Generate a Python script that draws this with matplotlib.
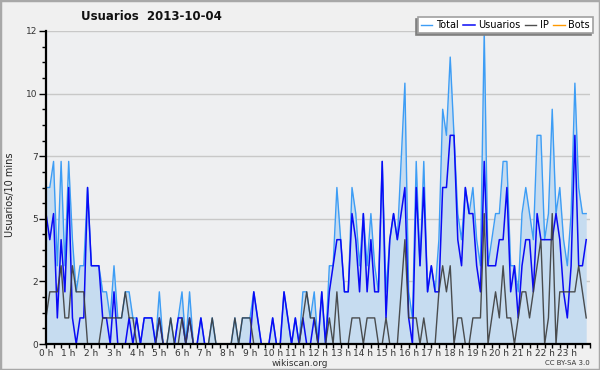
import numpy as np
import matplotlib
matplotlib.use("Agg")
import matplotlib.pyplot as plt
from matplotlib.ticker import FixedLocator, MultipleLocator, FuncFormatter
from matplotlib.patches import Rectangle

# Usuarios por intervalo de 10 minutos (144 intervalos)
usuarios = [5, 4, 5, 1, 4, 2, 6, 1, 0, 1,
            1, 6, 3, 3, 3, 1, 1, 0, 2, 0,
            0, 0, 1, 0, 1, 0, 1, 1, 1, 0,
            1, 0, 0, 0, 0, 1, 1, 0, 1, 0,
            0, 1, 0, 0, 0, 0, 0, 0, 0, 0,
            0, 0, 0, 0, 0, 2, 1, 0, 0, 0,
            1, 0, 0, 2, 1, 0, 1, 0, 1, 0,
            0, 1, 0, 2, 0, 2, 3, 4, 4, 2,
            2, 5, 4, 2, 5, 2, 4, 2, 2, 7,
            1, 4, 5, 4, 5, 6, 1, 0, 6, 3,
            6, 2, 3, 2, 2, 6, 6, 8, 8, 4,
            3, 6, 5, 5, 3, 2, 7, 3, 3, 3,
            4, 4, 6, 2, 3, 1, 3, 4, 4, 2,
            5, 4, 4, 4, 4, 5, 4, 2, 1, 3,
            8, 3, 3, 4]

ip = [1, 2, 2, 2, 3, 1, 1, 3, 2, 2,
      2, 0, 0, 0, 0, 1, 1, 1, 1, 1,
      1, 2, 1, 1, 0, 0, 0, 0, 0, 0,
      1, 0, 0, 1, 0, 0, 1, 0, 1, 0,
      0, 0, 0, 0, 1, 0, 0, 0, 0, 0,
      1, 0, 1, 1, 1, 0, 0, 0, 0, 0,
      0, 0, 0, 0, 0, 0, 0, 0, 1, 2,
      1, 1, 0, 0, 0, 1, 0, 2, 0, 0,
      0, 1, 1, 1, 0, 1, 1, 1, 0, 0,
      1, 0, 0, 0, 2, 4, 1, 1, 1, 0,
      1, 0, 0, 0, 2, 3, 2, 3, 0, 1,
      1, 0, 0, 1, 1, 1, 5, 0, 1, 2,
      1, 3, 1, 1, 0, 1, 2, 2, 1, 2,
      3, 4, 0, 1, 5, 0, 2, 2, 2, 2,
      2, 3, 2, 1]

total = [6, 6, 7, 3, 7, 3, 7, 4, 2, 3,
         3, 6, 3, 3, 3, 2, 2, 1, 3, 1,
         1, 2, 2, 1, 1, 0, 1, 1, 1, 0,
         2, 0, 0, 1, 0, 1, 2, 0, 2, 0,
         0, 1, 0, 0, 1, 0, 0, 0, 0, 0,
         1, 0, 1, 1, 1, 2, 1, 0, 0, 0,
         1, 0, 0, 2, 1, 0, 1, 0, 2, 2,
         1, 2, 0, 2, 0, 3, 3, 6, 4, 2,
         2, 6, 5, 3, 5, 3, 5, 3, 2, 7,
         2, 4, 5, 4, 7, 10, 2, 1, 7, 3,
         7, 2, 3, 2, 4, 9, 8, 11, 8, 5,
         4, 6, 5, 6, 4, 3, 12, 3, 4, 5,
         5, 7, 7, 3, 3, 2, 5, 6, 5, 4,
         8, 8, 4, 5, 9, 5, 6, 4, 3, 5,
         10, 6, 5, 5]

bots = [0] * 144

horas = np.arange(len(total)) / 6
y_ticks = [0, 2.4, 4.8, 7.2, 9.6, 12]
x_ticks = list(range(24))

W, H = 600, 370
fig = plt.figure(figsize=(6, 3.7), dpi=100, facecolor='#f0f0f0')
ax = fig.add_axes([46 / W, 1 - 344 / H, 544 / W, 313 / H])
ax.set_facecolor('#eeeff1')

ax.fill_between(horas, total, color='#c6dcf0', lw=0, zorder=1)
l_bots, = ax.plot(horas, bots, color='#ff9900', lw=1, zorder=1.5)
l_total, = ax.plot(horas, total, color='#3d9df5', lw=1, zorder=3)
l_usr, = ax.plot(horas, usuarios, color='#0a0af5', lw=1.1, zorder=4)
l_ip, = ax.plot(horas, ip, color='#3c3c3c', lw=1, alpha=0.9, zorder=5)

ax.set_xlim(0, 24)
ax.set_ylim(0, 12)

ax.yaxis.set_major_locator(FixedLocator(y_ticks))
ax.yaxis.set_minor_locator(MultipleLocator(0.6))
ax.yaxis.set_major_formatter(FuncFormatter(lambda v, p: f"{v:.0f}"))
ax.xaxis.set_major_locator(FixedLocator(x_ticks))
ax.xaxis.set_minor_locator(MultipleLocator(1 / 3))
ax.xaxis.set_major_formatter(FuncFormatter(lambda v, p: f"{int(v)} h"))

ax.tick_params(axis='both', which='major', direction='out', length=5,
               width=1, colors='black', labelsize=6.5, labelcolor='#333333', pad=1)
ax.tick_params(axis='both', which='minor', direction='out', length=3, width=1)
ax.tick_params(axis='x', which='major', length=3, pad=0.5)
ax.tick_params(axis='x', which='minor', length=3)

ax.grid(axis='y', which='major', color='#c8c8c8', lw=1)
ax.set_axisbelow(True)
for s in ['top', 'right']:
    ax.spines[s].set_visible(False)
for s in ['left', 'bottom']:
    ax.spines[s].set_linewidth(1.6)
    ax.spines[s].set_zorder(6)

leg = ax.legend([l_total, l_usr, l_ip, l_bots], ['Total', 'Usuarios', 'IP', 'Bots'],
                ncol=4, loc='upper right', bbox_to_anchor=(593 / W, 1 - 17 / H),
                bbox_transform=fig.transFigure, borderaxespad=0, fontsize=7,
                handlelength=1.2, handletextpad=0.4, columnspacing=0.4,
                borderpad=0.3, fancybox=False, framealpha=1,
                shadow={'ox': -1.5, 'oy': -1.5, 'color': '#808080', 'alpha': 1})
leg.get_frame().set_edgecolor('#a0a0a0')
leg.get_frame().set_linewidth(1.2)
leg.set_zorder(10)

fig.text(151 / W, 1 - 17 / H, 'Usuarios  2013-10-04', ha='center', va='center',
         fontsize=8.5, fontweight='bold', color='#111111')
fig.text(10 / W, 1 - 195 / H, 'Usuarios/10 mins', rotation=90, ha='center',
         va='center', fontsize=7, color='#222222')
fig.text(300 / W, 1 - 363 / H, 'wikiscan.org', ha='center', va='center',
         fontsize=6.5, color='#333333')
fig.text(590 / W, 1 - 363 / H, 'CC BY-SA 3.0', ha='right', va='center',
         fontsize=5, color='#333333')

fig.patches.append(Rectangle((0, 0), 1, 1, transform=fig.transFigure, fill=False,
                             edgecolor='#a8a8a8', lw=2.5))

fig.savefig('out.png', dpi=100, facecolor=fig.get_facecolor())
